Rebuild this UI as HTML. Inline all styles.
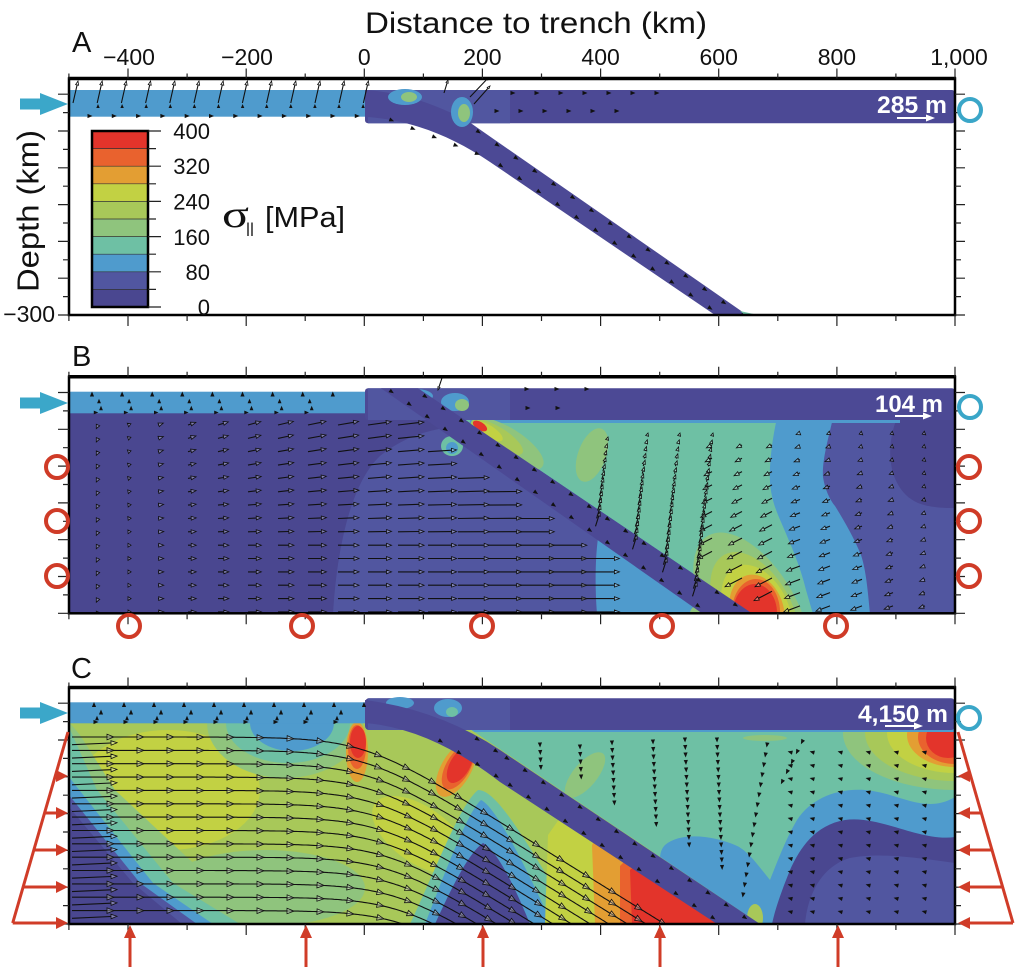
<!DOCTYPE html>
<html><head><meta charset="utf-8"><style>
html,body{margin:0;padding:0;background:#fff;}
svg{display:block;font-family:"Liberation Sans",Arial,sans-serif;}
</style></head><body>
<svg id="s" xmlns="http://www.w3.org/2000/svg" width="1015" height="967" viewBox="0 0 1015 967">
<defs>
<clipPath id="cA"><rect x="69" y="78.5" width="886" height="236.5"/></clipPath>
<clipPath id="cB"><rect x="69" y="376.8" width="886" height="236.5"/></clipPath>
<clipPath id="cC"><rect x="69" y="687.5" width="886" height="236.5"/></clipPath>
<clipPath id="cM"><rect x="69" y="722.5" width="886" height="201.5"/></clipPath>
<clipPath id="cW"><path d="M470,729 L955,729 L955,924 L760,924 Z"/></clipPath>
</defs>
<rect width="1015" height="967" fill="#fff"/>

<!-- ===== Panel A ===== -->
<g clip-path="url(#cA)">
<rect x="69" y="90" width="296" height="26.7" fill="#4f9bcd"/>
<rect x="365" y="90" width="590" height="33.3" rx="3" fill="#4c4995"/>
<rect x="368" y="90" width="142" height="33.3" fill="#5156a0"/>
<path d="M365,90 C400,92 440,105 471,123.3 L747,315 L715,315 L490,162 C450,135 410,120 365,116.7 Z" fill="#4c4995"/>
<ellipse cx="405" cy="97" rx="17" ry="8" fill="#4f9bcd"/>
<ellipse cx="409" cy="97" rx="8" ry="5" fill="#8fc47d"/>
<ellipse cx="462" cy="112" rx="11" ry="15" fill="#4f9bcd"/>
<ellipse cx="464" cy="113" rx="6" ry="9" fill="#8fc47d"/>
<polygon points="740,311 758,315 745,315" fill="#6ec0a4"/>
</g>

<!-- ===== Panel B ===== -->
<g clip-path="url(#cB)">
<rect x="69" y="413" width="886" height="201" fill="#4a4790"/>
<path d="M700,413 L955,413 L955,614 L703,614 Z" fill="#5156a0"/>
<path d="M333,614 C337,545 352,482 380,456 C400,440 420,432 445,428 L703,614 Z" fill="#5156a0"/>
<path d="M897,418 C884,450 889,490 918,503 C933,509 955,508 955,508 L955,418 Z" fill="#4a4790"/>
<path d="M436,400 L833,418 C828,440 822,460 823,477 C825,490 830,500 835,506 C845,522 855,540 861,555 C866,570 868,592 870,614 L753,614 Z" fill="#4f9bcd"/>
<path d="M436,400 L777,418 C772,440 769,465 770,482 C771,496 774,506 781,522 C790,543 800,565 806,590 L813,614 L753,614 Z" fill="#6ec0a4"/>
<rect x="470" y="416" width="430" height="7" fill="#4f9bcd"/>
<ellipse cx="592" cy="455" rx="14" ry="28" transform="rotate(20 592 455)" fill="#8fc47d"/>
<ellipse cx="507" cy="444" rx="42" ry="16" transform="rotate(32 507 444)" fill="#8fc47d"/>
<ellipse cx="497" cy="437" rx="30" ry="10" transform="rotate(32 497 437)" fill="#a8c859"/>
<ellipse cx="488" cy="431" rx="17" ry="6" transform="rotate(32 488 431)" fill="#c2d143"/>
<ellipse cx="480" cy="426" rx="8" ry="4" transform="rotate(32 480 426)" fill="#e3342b"/>
<ellipse cx="752" cy="612" rx="45" ry="88" transform="rotate(-30 752 612)" fill="#8fc47d"/>
<ellipse cx="755" cy="612" rx="37" ry="65" transform="rotate(-28 755 612)" fill="#a8c859"/>
<ellipse cx="757" cy="612" rx="32" ry="50" transform="rotate(-25 757 612)" fill="#c2d143"/>
<ellipse cx="757" cy="612" rx="27" ry="38" transform="rotate(-15 757 612)" fill="#e39e33"/>
<ellipse cx="756" cy="612" rx="24" ry="33" fill="#e9622e"/>
<ellipse cx="755" cy="613" rx="22" ry="29" fill="#e3342b"/>
<path d="M597,614 C595,590 595,560 598,538 L703,614 Z" fill="#4f9bcd"/>
<ellipse cx="700" cy="613" rx="10" ry="8" fill="#8fc47d"/>
<ellipse cx="452" cy="446" rx="11" ry="10" fill="#6ec0a4"/>
<ellipse cx="452" cy="448" rx="6" ry="6" fill="#4f9bcd"/>
<rect x="69" y="391.7" width="296" height="21.6" fill="#4f9bcd"/>
<rect x="365" y="388.3" width="590" height="31.7" rx="3" fill="#4c4995"/>
<rect x="368" y="388.3" width="142" height="31.7" fill="#5156a0"/>
<ellipse cx="415" cy="396" rx="18" ry="7" fill="#4f9bcd"/>
<ellipse cx="455" cy="402" rx="14" ry="9" fill="#4f9bcd"/>
<ellipse cx="462" cy="405" rx="7" ry="6" fill="#8fc47d"/>
<polygon points="381,388.3 418,388.3 753,614 703,614" fill="#4c4995"/>
</g>

<!-- ===== Panel C ===== -->
<g clip-path="url(#cC)">
<g clip-path="url(#cM)">
<rect x="69" y="722" width="886" height="203" fill="#a8c859"/>
<ellipse cx="168" cy="790" rx="92" ry="60" fill="#c2d143"/>
<ellipse cx="265" cy="888" rx="100" ry="38" fill="#8fc47d"/>
<ellipse cx="420" cy="835" rx="55" ry="28" transform="rotate(35 420 835)" fill="#c2d143"/>
<ellipse cx="285" cy="723" rx="78" ry="55" fill="#8fc47d"/>
<ellipse cx="288" cy="723" rx="62" ry="40" fill="#6ec0a4"/>
<ellipse cx="292" cy="723" rx="42" ry="28" fill="#4f9bcd"/>
<polygon points="69,722 80,735 115,790 190,860 267,924 69,924" fill="#8fc47d"/>
<polygon points="69,727 97,790 173,883 240,924 69,924" fill="#6ec0a4"/>
<polygon points="69,777 153,883 213,924 69,924" fill="#4f9bcd"/>
<polygon points="69,795 140,883 197,924 69,924" fill="#5156a0"/>
<polygon points="69,807 133,883 182,924 69,924" fill="#4a4790"/>
<path d="M410,924 C440,860 460,805 478,790 C497,790 525,840 565,905 L575,924 Z" fill="#6ec0a4"/>
<path d="M425,924 C450,860 468,812 481,800 C494,806 518,850 552,924 Z" fill="#4f9bcd"/>
<path d="M435,924 C455,880 470,852 483,843 C496,850 512,880 530,924 Z" fill="#4a4790"/>
<polygon points="545,924 548,835 562,815 640,840 720,924" fill="#c2d143"/>
<polygon points="595,924 592,845 600,832 717,900 717,924" fill="#e39e33"/>
<polygon points="620,924 620,866 630,856 717,924" fill="#e9622e"/>
<polygon points="632,924 630,870 640,862 717,924" fill="#e3342b"/>
<ellipse cx="357" cy="752" rx="11" ry="30" fill="#e39e33"/>
<ellipse cx="357" cy="747" rx="9" ry="22" fill="#e9622e"/>
<ellipse cx="358" cy="742" rx="8" ry="16" fill="#e3342b"/>
<ellipse cx="456" cy="769" rx="15" ry="31" transform="rotate(30 456 769)" fill="#e39e33"/>
<ellipse cx="458" cy="767" rx="12" ry="25" transform="rotate(30 458 767)" fill="#e9622e"/>
<ellipse cx="460" cy="765" rx="10" ry="20" transform="rotate(30 460 765)" fill="#e3342b"/>
</g>
<g clip-path="url(#cW)">
<rect x="460" y="725" width="500" height="200" fill="#6ec0a4"/>
<ellipse cx="955" cy="733" rx="112" ry="57" fill="#8fc47d"/>
<ellipse cx="955" cy="733" rx="90" ry="48" fill="#a8c859"/>
<ellipse cx="955" cy="733" rx="68" ry="40" fill="#c2d143"/>
<ellipse cx="955" cy="735" rx="48" ry="32" fill="#e39e33"/>
<ellipse cx="955" cy="737" rx="37" ry="27" fill="#e9622e"/>
<ellipse cx="948" cy="738" rx="22" ry="20" fill="#e3342b"/>
<path d="M955,797 C925,815 900,793 865,790 C835,788 810,800 797,820 C785,840 775,868 770,880 C760,868 748,850 735,845 C712,835 680,832 665,845 C655,855 660,880 680,900 L700,924 L955,924 Z" fill="#4f9bcd"/>
<path d="M955,837 C920,842 880,815 845,820 C815,825 800,848 790,870 C780,895 775,910 772,924 L955,924 Z" fill="#4a4790"/>
<path d="M955,863 C920,858 880,852 850,858 C825,865 808,890 805,924 L955,924 Z" fill="#5156a0"/>
<ellipse cx="585" cy="775" rx="12" ry="28" transform="rotate(40 585 775)" fill="#8fc47d"/>
<ellipse cx="765" cy="738" rx="22" ry="3" fill="#8fc47d"/>
<ellipse cx="755" cy="918" rx="8" ry="14" fill="#a8c859"/>
<rect x="460" y="728" width="500" height="4" fill="#4f9bcd"/>
</g>
<rect x="69" y="702.3" width="296" height="21" fill="#4f9bcd"/>
<rect x="365" y="698.3" width="590" height="31.7" rx="4" fill="#4c4995"/>
<rect x="368" y="698.3" width="142" height="31.7" fill="#5156a0"/>
<ellipse cx="400" cy="703" rx="14" ry="6" fill="#4f9bcd"/>
<ellipse cx="448" cy="708" rx="14" ry="9" fill="#4f9bcd"/>
<ellipse cx="452" cy="712" rx="6" ry="5" fill="#6ec0a4"/>
<path d="M365,700 Q440,710 500,750 L760,924 L717,924 L500,782 Q430,728 365,723 Z" fill="#4c4995"/>
</g>

<g id="arrowsHere"></g>

<!-- frames -->
<g fill="none" stroke="#000">
<rect x="69" y="78.5" width="886" height="236.5" stroke-width="2.5"/>
<line x1="68" y1="78.5" x2="956" y2="78.5" stroke-width="3.5"/>
<rect x="69" y="376.8" width="886" height="236.5" stroke-width="2.5"/>
<line x1="68" y1="376.8" x2="956" y2="376.8" stroke-width="3.5"/>
<rect x="69" y="687.5" width="886" height="236.5" stroke-width="2.5"/>
<line x1="68" y1="687.5" x2="956" y2="687.5" stroke-width="3.5"/>
</g>
<path id="ticks" d="" stroke="#222" stroke-width="1.2" fill="none"/>

<!-- colorbar -->
<g>
<rect x="92" y="131" width="56" height="17.6" fill="#e3342b"/>
<rect x="92" y="148.6" width="56" height="17.6" fill="#e9622e"/>
<rect x="92" y="166.2" width="56" height="17.6" fill="#e39e33"/>
<rect x="92" y="183.8" width="56" height="17.6" fill="#c2d143"/>
<rect x="92" y="201.4" width="56" height="17.6" fill="#a8c859"/>
<rect x="92" y="219" width="56" height="17.6" fill="#8fc47d"/>
<rect x="92" y="236.6" width="56" height="17.6" fill="#6ec0a4"/>
<rect x="92" y="254.2" width="56" height="17.6" fill="#4f9bcd"/>
<rect x="92" y="271.8" width="56" height="17.6" fill="#5156a0"/>
<rect x="92" y="289.4" width="56" height="17.6" fill="#4a4790"/>
<path d="M92,148.6h56M92,166.2h56M92,183.8h56M92,201.4h56M92,219h56M92,236.6h56M92,254.2h56M92,271.8h56M92,289.4h56" stroke="#333" stroke-width="0.7"/>
<rect x="92" y="131" width="56" height="176" fill="none" stroke="#000" stroke-width="2.5"/>
<path d="M148,131h13M148,148.6h8M148,166.2h13M148,183.8h8M148,201.4h13M148,219h8M148,236.6h13M148,254.2h8M148,271.8h13M148,289.4h8M148,307h13" stroke="#222" stroke-width="1.2"/>
</g>
<g font-size="22" text-anchor="end" fill="#111">
<text x="210" y="139">400</text>
<text x="210" y="174">320</text>
<text x="210" y="209.5">240</text>
<text x="210" y="245">160</text>
<text x="210" y="280">80</text>
<text x="210" y="315">0</text>
</g>
<text x="222" y="227" font-family="Liberation Serif, serif" font-size="38" textLength="27" lengthAdjust="spacingAndGlyphs" fill="#111">σ</text>
<text x="246" y="236" font-size="19" textLength="8" lengthAdjust="spacingAndGlyphs" fill="#111">II</text>
<text x="265" y="227" font-size="29" textLength="80" lengthAdjust="spacingAndGlyphs" fill="#111">[MPa]</text>

<!-- titles and labels -->
<text x="365" y="33" font-size="30" textLength="342" lengthAdjust="spacingAndGlyphs" fill="#111">Distance to trench (km)</text>
<text transform="translate(38.5,211) rotate(-90)" text-anchor="middle" font-size="31" textLength="162" lengthAdjust="spacingAndGlyphs" fill="#111">Depth (km)</text>
<g font-size="23" text-anchor="middle" fill="#111">
<text x="129" y="65">−400</text>
<text x="247" y="65">−200</text>
<text x="364.3" y="65">0</text>
<text x="482.4" y="65">200</text>
<text x="600.6" y="65">400</text>
<text x="718.7" y="65">600</text>
<text x="836.9" y="65">800</text>
<text x="959" y="65">1,000</text>
</g>
<text x="55" y="322" font-size="23" text-anchor="end" fill="#111">−300</text>
<g font-size="29" fill="#111">
<text x="72" y="52">A</text>
<text x="72" y="366">B</text>
<text x="71" y="678">C</text>
</g>

<!-- scale labels -->
<g fill="#fff" font-weight="bold" font-size="24">
<text x="877" y="113" textLength="70" lengthAdjust="spacingAndGlyphs">285 m</text>
<text x="875" y="412" textLength="68" lengthAdjust="spacingAndGlyphs">104 m</text>
<text x="858" y="722" textLength="90" lengthAdjust="spacingAndGlyphs">4,150 m</text>
</g>
<g stroke="#fff" stroke-width="2" fill="#fff">
<line x1="897" y1="118" x2="928" y2="118"/><polygon points="926,114.5 935,118 926,121.5" stroke="none"/>
<line x1="895" y1="416" x2="925" y2="416"/><polygon points="923,412.5 932,416 923,419.5" stroke="none"/>
<line x1="885" y1="726" x2="916" y2="726"/><polygon points="914,722.5 923,726 914,729.5" stroke="none"/>
</g>

<!-- blue push arrows -->
<g fill="#3ba7c9">
<rect x="20" y="98.5" width="22" height="11"/><polygon points="40,93 68,104 40,115"/>
<rect x="20" y="397.5" width="22" height="11"/><polygon points="40,392 68,403 40,414"/>
<rect x="20" y="707.5" width="22" height="11"/><polygon points="40,702 68,713 40,724"/>
</g>
<g fill="none" stroke="#3aa6c8" stroke-width="4">
<circle cx="970" cy="110" r="11"/>
<circle cx="970" cy="407" r="11"/>
<circle cx="969" cy="718" r="11"/>
</g>

<!-- red circles in B -->
<g fill="none" stroke="#cf3b27" stroke-width="4">
<circle cx="57" cy="467" r="11"/><circle cx="57" cy="521" r="11"/><circle cx="57" cy="576" r="11"/>
<circle cx="969" cy="467" r="11"/><circle cx="969" cy="521" r="11"/><circle cx="969" cy="576" r="11"/>
<circle cx="129" cy="626" r="11"/><circle cx="302" cy="626" r="11"/><circle cx="482" cy="626" r="11"/><circle cx="662" cy="626" r="11"/><circle cx="836" cy="626" r="11"/>
</g>

<!-- red load arrows in C -->
<g stroke="#d03c28" stroke-width="3" fill="none">
<line x1="68" y1="732" x2="12.7" y2="923"/>
<line x1="45" y1="813" x2="58" y2="813"/>
<line x1="34" y1="850" x2="58" y2="850"/>
<line x1="23" y1="887" x2="58" y2="887"/>
<line x1="12.7" y1="923" x2="58" y2="923"/>
<line x1="958" y1="732" x2="1013" y2="923"/>
<line x1="970.7" y1="776" x2="968" y2="776"/>
<line x1="981.3" y1="813" x2="968" y2="813"/>
<line x1="992" y1="850" x2="968" y2="850"/>
<line x1="1002.6" y1="887" x2="968" y2="887"/>
<line x1="1013" y1="923" x2="968" y2="923"/>
<line x1="130" y1="967" x2="130" y2="936"/>
<line x1="306" y1="967" x2="306" y2="936"/>
<line x1="483" y1="967" x2="483" y2="936"/>
<line x1="660" y1="967" x2="660" y2="936"/>
<line x1="838" y1="967" x2="838" y2="936"/>
</g>
<g fill="#d03c28">
<polygon points="56,770 68,776 56,782"/>
<polygon points="56,807 68,813 56,819"/>
<polygon points="56,844 68,850 56,856"/>
<polygon points="56,881 68,887 56,893"/>
<polygon points="56,917 68,923 56,929"/>
<polygon points="970,770 958,776 970,782"/>
<polygon points="970,807 958,813 970,819"/>
<polygon points="970,844 958,850 970,856"/>
<polygon points="970,881 958,887 970,893"/>
<polygon points="970,917 958,923 970,929"/>
<polygon points="124,938 130,925 136,938"/>
<polygon points="300,938 306,925 312,938"/>
<polygon points="477,938 483,925 489,938"/>
<polygon points="654,938 660,925 666,938"/>
<polygon points="832,938 838,925 844,938"/>
</g>
</svg>
<script>
(function(){
var NS='http://www.w3.org/2000/svg';
function f(v){return (Math.round(v*10)/10).toString();}
var P={A:{L:'',H:'',O:''},B:{L:'',H:'',O:''},C:{L:'',H:'',O:''}};
var c=P.A;
function tri(x,y,ux,uy,h,w){var bx=x-ux*h,by=y-uy*h;return 'M'+f(x)+','+f(y)+'L'+f(bx-uy*w)+','+f(by+ux*w)+'L'+f(bx+uy*w)+','+f(by-ux*w)+'Z';}
function arrow(x1,y1,x2,y2,h,open){var dx=x2-x1,dy=y2-y1,len=Math.sqrt(dx*dx+dy*dy);if(len<0.5)return;var ux=dx/len,uy=dy/len,hh=Math.min(h,len);if(len>hh+0.5)c.L+='M'+f(x1)+','+f(y1)+'L'+f(x2-ux*hh)+','+f(y2-uy*hh);var t=tri(x2,y2,ux,uy,hh,h*0.38);if(open)c.O+=t;else c.H+=t;}
function head(x,y,a,h){var ux=Math.cos(a),uy=Math.sin(a);c.H+=tri(x+ux*h/2,y+uy*h/2,ux,uy,h,h*0.42);}
function along(x1,y1,x2,y2,step,h,off){var dx=x2-x1,dy=y2-y1,len=Math.sqrt(dx*dx+dy*dy),ux=dx/len,uy=dy/len,a=Math.atan2(uy,ux);for(var s=step/2;s<len;s+=step){head(x1+ux*s-uy*off,y1+uy*s+ux*off,a,h);}}
var UP=-Math.PI/2,DOWN=Math.PI/2,i,j,x,y;
/* Panel A */
c=P.A;
for(i=0;i<13;i++){x=75+24.2*i;arrow(x-2,103,x+3,81,4,true);}
for(i=0;i<12;i++){head(98+24.1*i,106,UP,4);head(90+24.3*i,116,0,5);}
for(x=513;x<=660;x+=24)head(x,93,0,5);
for(x=497;x<=625;x+=24)head(x,111,0,5);
along(471,123,747,315,23,5,3);along(490,162,715,315,23,5,-3);along(380,119,490,162,23,5,-3);
arrow(444,93,448,80,3,true);arrow(470,97,489,77,3,true);arrow(474,104,490,86,3,true);
/* Panel B */
c=P.B;
for(i=0;i<9;i++)head(92+30.1*i,394,UP,5);
for(i=0;i<8;i++){head(99+30.1*i,401,UP,4.5);head(101+30.1*i,408,UP,4.5);head(96+30.1*i,412.5,0,4.5);}
[[527,389],[557,389],[587,389],[528,408],[558,408]].forEach(function(p){head(p[0],p[1],0,5);});
function xlB(yy){return 703-(613.3-yy)/0.70;}
function xuB(yy){return 753-(613.3-yy)/0.672;}
for(j=0;j<15;j++){y=425+13.35*j;
 for(i=0;i<17;i++){x=98+30*i;var len,ang;
  if(x<125){len=4;ang=2.0;}else{len=Math.min(42,2+(x-115)*0.085);ang=-0.38*Math.max(0,1-(y-425)/120)*Math.max(0,1-(x-130)/380);}
  var x2=x+len*Math.cos(ang),y2=y+len*Math.sin(ang);
  if(Math.max(x,x2)>xlB(y)-4)continue;
  arrow(x,y,x2,y2,5,true);}}
[[600,512,608,437],[637,535,648,433],[667,558,680,433],[697,582,713,433]].forEach(function(cc){var n=Math.round((cc[1]-cc[3])/7);for(var k=0;k<=n;k++){var t=k/n,xx=cc[0]+(cc[2]-cc[0])*t,yy=cc[1]+(cc[3]-cc[1])*t;var L2=3+12*(1-t);arrow(xx-L2*0.3,yy+L2*0.95,xx,yy,4,true);}});
for(y=445;y<=606;y+=13.3){[712,742,772].forEach(function(xx){var s=(y-440)/165,l=6+16*s;var xe=xx-l*0.87,ye=y+l*0.45;if(xe<xuB(ye)+4)return;arrow(xx,y,xe,ye,5,true);});}
for(y=433;y<=610;y+=13.3){[800,830,862,893,925].forEach(function(xx){var s=(y-430)/180;var l=Math.max(3,(4+14*s)*(1-(xx-800)/200));arrow(xx,y,xx-l*0.93,y+l*0.35,5,true);});}
along(418,388,753,613,22,5,3);along(381,388,703,613,22,5,-3);
arrow(442,378,438,390,3,true);
/* Panel C */
c=P.C;
for(i=0;i<10;i++)head(94+30*i,704.5,UP,5);
for(i=0;i<9;i++){head(101+30*i,712,UP,5);head(97+30*i,718,UP,4.5);head(96+30*i,722,0,5);}
function ysC(xx){if(xx<=365)return 723;if(xx<=500){var t=(xx-365)/135;return 723+10*t+49*t*t;}return 782+(xx-500)*0.654;}
function stream(x0,y0){var sx=x0,sy=y0,pts='M'+f(sx)+','+f(sy),s=0,next=42,xb=362+(y0-737)*0.22;
 while(sx<955){var sl=0.62/(1+Math.exp(-(sx-xb)/30));var dx=2,dy=dx*sl;sx+=dx;sy+=dy;s+=Math.sqrt(dx*dx+dy*dy);
  if(sy>=925||sy<ysC(sx)+3)break;pts+='L'+f(sx)+','+f(sy);
  if(s>=next){var a=Math.atan2(dy,dx);c.O+=tri(sx,sy,Math.cos(a),Math.sin(a),7,2.8);next+=30;}}
 c.L+=pts;}
for(j=0;j<14;j++)stream(72,737+13.35*j);
for(j=0;j<14;j++){y=743.7+13.35*j;if(y>921)break;arrow(72,y+1,117,y-1,6,true);}
[[540,745,768],[580,747,780],[612,743,808],[653,742,830],[685,740,852],[717,740,873]].forEach(function(cc){for(var yy=cc[1];yy<=cc[2];yy+=7.5)head(cc[0]+(yy-cc[1])*0.04,yy,DOWN*0.97,5);});
for(y=745;y<=895;y+=10){head(767-(y-745)*0.16,y,DOWN*1.1,5);}
for(y=742;y<=790;y+=10){head(802-(y-742)*0.5,y,DOWN*1.3,5);}
for(y=752;y<=912;y+=13.3){[790,812,840,868,896,924].forEach(function(xx){head(xx,y,Math.PI*1.08,5);});}
along(470,731,500,750,22,5,3);along(500,750,760,924,22,5,3);along(430,738,500,782,22,5,-3);along(500,782,717,924,22,5,-3);
/* emit */
var host=document.getElementById('arrowsHere');
['A','B','C'].forEach(function(k){var g=document.createElementNS(NS,'g');g.setAttribute('clip-path','url(#c'+k+')');
 var a=document.createElementNS(NS,'path');a.setAttribute('d',P[k].L||'M0,0');a.setAttribute('fill','none');a.setAttribute('stroke','#111');a.setAttribute('stroke-width','1.1');g.appendChild(a);
 var b=document.createElementNS(NS,'path');b.setAttribute('d',P[k].O||'M0,0');b.setAttribute('fill','#ffffff');b.setAttribute('fill-opacity','0.3');b.setAttribute('stroke','#111');b.setAttribute('stroke-width','0.8');g.appendChild(b);
 var d=document.createElementNS(NS,'path');d.setAttribute('d',P[k].H||'M0,0');d.setAttribute('fill','#111');g.appendChild(d);
 host.appendChild(g);});
/* ticks */
var td='';
[[78.5,315],[376.8,613.3],[687.5,924]].forEach(function(pb){var t=pb[0],b=pb[1];
 for(var km=-500;km<=1000;km+=100){var tx=364.3+0.5907*km;var mj=(km%200===0);td+='M'+f(tx)+','+t+'v'+(mj?-10:-5)+'M'+f(tx)+','+b+'v'+(mj?11:6);}
 for(var k=0;k<=12;k++){var ty=b-18.4*k;var mj2=(k%2===0);td+='M69,'+f(ty)+'h'+(mj2?-11:-6)+'M955,'+f(ty)+'h'+(mj2?10:6);}
});
document.getElementById('ticks').setAttribute('d',td);
})();
</script>
</body></html>
